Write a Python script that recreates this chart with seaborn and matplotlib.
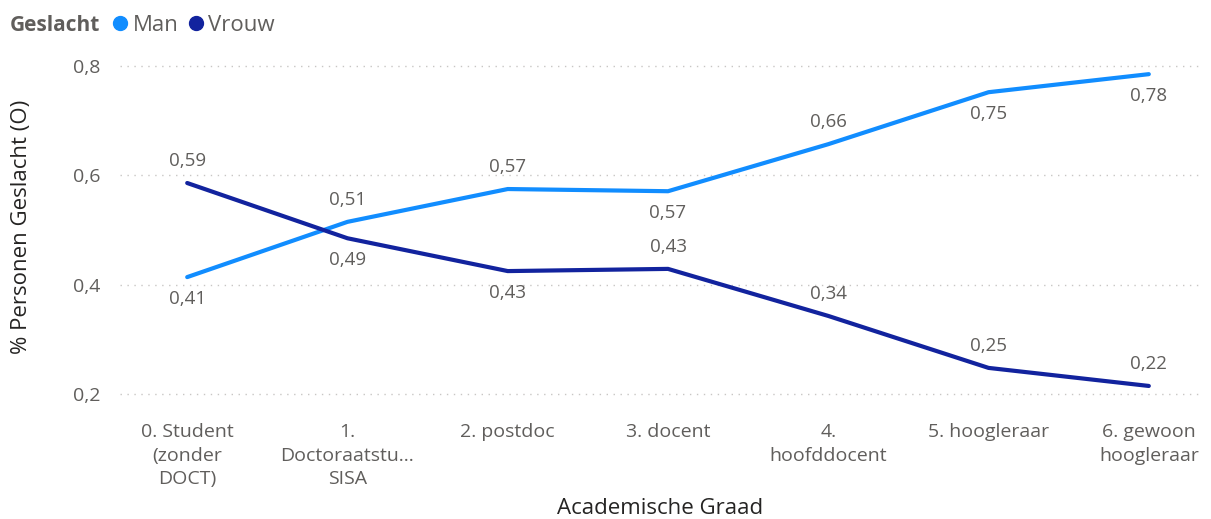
import pandas as pd
import matplotlib.pyplot as plt
import seaborn as sns
from matplotlib.lines import Line2D

# data
graden = [
    "0. Student\n(zonder\nDOCT)",
    "1.\nDoctoraatstu...\nSISA",
    "2. postdoc",
    "3. docent",
    "4.\nhoofddocent",
    "5. hoogleraar",
    "6. gewoon\nhoogleraar",
]
man = [0.414, 0.515, 0.575, 0.571, 0.657, 0.752, 0.785]
vrouw = [0.586, 0.485, 0.425, 0.429, 0.343, 0.248, 0.215]
man_labels = ["0,41", "0,51", "0,57", "0,57", "0,66", "0,75", "0,78"]
vrouw_labels = ["0,59", "0,49", "0,43", "0,43", "0,34", "0,25", "0,22"]
# +1 label above the point, -1 below
man_side = [-1, 1, 1, -1, 1, -1, -1]
vrouw_side = [1, -1, -1, 1, 1, 1, 1]
yticks = [0.2, 0.4, 0.6, 0.8]
ytick_labels = ["0,2", "0,4", "0,6", "0,8"]

kleuren = {"Man": "#118DFF", "Vrouw": "#12239E"}
tekst = "#605E5C"

df = pd.DataFrame({
    "Graad": graden * 2,
    "Waarde": man + vrouw,
    "Geslacht": ["Man"] * len(man) + ["Vrouw"] * len(vrouw),
})

sns.set_style("white")
plt.rcParams["font.family"] = ["Open Sans", "DejaVu Sans"]

fig = plt.figure(figsize=(12.11, 5.19), dpi=100)
ax = fig.add_axes([0.099, 0.230, 0.892, 0.664])

sns.lineplot(data=df, x="Graad", y="Waarde", hue="Geslacht", palette=kleuren,
             linewidth=3, sort=False, legend=False, ax=ax)

for serie, labels, sides in [("Man", man_labels, man_side),
                             ("Vrouw", vrouw_labels, vrouw_side)]:
    sub = df[df["Geslacht"] == serie]
    for i, (val, lab, s) in enumerate(zip(sub["Waarde"], labels, sides)):
        ax.annotate(lab, (i, val), xytext=(0, 16 * s), textcoords="offset points",
                    ha="center", va="center", fontsize=13.5, color=tekst)

ax.set_xlim(-0.42, 6.32)
ax.set_ylim(0.19, 0.82)
ax.set_yticks(yticks)
ax.set_yticklabels(ytick_labels)
ax.set_xticks(range(len(graden)))
ax.set_xticklabels(graden)
ax.tick_params(axis="both", colors=tekst, labelsize=14, length=0)
ax.tick_params(axis="x", pad=17)
ax.tick_params(axis="y", pad=14)
for t in ax.get_xticklabels():
    t.set_linespacing(1.4)
ax.grid(axis="y", linestyle=(0, (1, 4)), color="#C8C6C4", linewidth=1)
sns.despine(ax=ax, left=True, bottom=True)

ax.set_xlabel("Academische Graad", fontsize=16, color="#252423", va="center")
ax.set_ylabel("% Personen Geslacht (O)", fontsize=16, color="#252423", va="center")
ax.xaxis.set_label_coords(0.5, -0.315)
ax.yaxis.set_label_coords(-0.091, 0.5)

# legend at the top left
fig.text(0.008, 0.951, "Geslacht", fontsize=15, fontweight="bold", color=tekst,
         va="center", ha="left")
handles = [Line2D([], [], marker="o", linestyle="", markersize=10,
                  color=kleuren[k], label=k) for k in kleuren]
leg = fig.legend(handles=handles, loc="center left", bbox_to_anchor=(0.092, 0.951),
                 ncol=2, frameon=False, fontsize=16, handlelength=0.8,
                 handletextpad=0.15, columnspacing=0.4, borderaxespad=0,
                 borderpad=0)
for t in leg.get_texts():
    t.set_color(tekst)

fig.savefig("out.png", dpi=100)
